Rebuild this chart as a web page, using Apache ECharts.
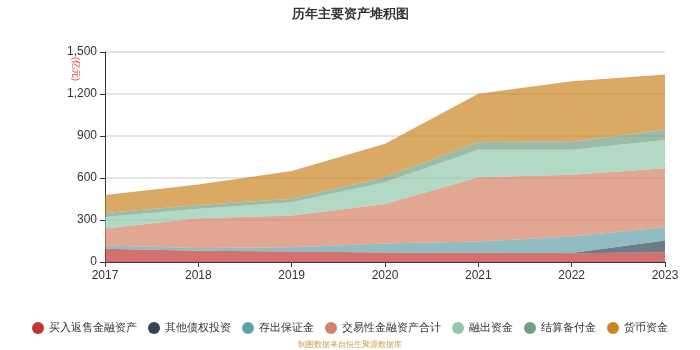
<!DOCTYPE html>
<html>
<head>
<meta charset="utf-8">
<script src="https://cdn.jsdelivr.net/npm/echarts@6/dist/echarts.min.js"></script>
<style>
  html, body { margin: 0; padding: 0; background: #fff; }
  #main { width: 700px; height: 350px; }
</style>
</head>
<body>
<div id="main"></div>
<script>
var years = ['2017', '2018', '2019', '2020', '2021', '2022', '2023'];
var seriesNames = ['买入返售金融资产', '其他债权投资', '存出保证金', '交易性金融资产合计', '融出资金', '结算备付金', '货币资金'];

// 单位：亿元
var buyBack   = [95, 80, 75, 68, 66, 62, 70];
var otherDebt = [0, 0, 0, 0, 0, 3, 84];
var deposit   = [23, 20, 31, 64, 80, 117, 95];
var trading   = [122, 213, 226, 283, 460, 441, 421];
var margin    = [82, 67, 95, 155, 195, 178, 202];
var settle    = [28, 28, 25, 38, 57, 62, 72];
var cash      = [128, 145, 198, 237, 343, 428, 395];

var colors = ['#c23531', '#2f4554', '#61a0a8', '#d48265', '#91c7ae', '#749f83', '#ca8622'];
var allData = [buyBack, otherDebt, deposit, trading, margin, settle, cash];

var myChart = echarts.init(document.getElementById('main'));

var series = [];
for (var i = 0; i < seriesNames.length; i++) {
    series.push({
        name: seriesNames[i],
        type: 'line',
        stack: 'total',
        symbol: 'none',
        lineStyle: { width: 0 },
        areaStyle: { opacity: 0.7 },
        data: allData[i]
    });
}

myChart.setOption({
    color: colors,
    title: {
        text: '历年主要资产堆积图',
        left: 'center',
        top: 3,
        textStyle: { fontSize: 13, fontWeight: 'bold', color: '#333' }
    },
    graphic: [
        {
            type: 'text',
            left: 71,
            top: 57,
            rotation: -Math.PI / 2,
            style: { text: '(亿元)', fill: '#e33', font: '9px sans-serif' }
        },
        {
            type: 'text',
            left: 'center',
            top: 341,
            style: { text: '制图数据来自恒生聚源数据库', fill: '#c8a050', font: '8px sans-serif' }
        }
    ],
    legend: {
        top: 317,
        left: 'center',
        icon: 'circle',
        itemWidth: 12,
        itemHeight: 12,
        itemGap: 11,
        textStyle: { fontSize: 10.5, color: '#333' },
        data: seriesNames
    },
    grid: { left: 105, right: 35, top: 52, bottom: 88 },
    xAxis: {
        type: 'category',
        boundaryGap: false,
        data: years,
        axisLine: { lineStyle: { color: '#333' } },
        axisTick: { alignWithLabel: true },
        axisLabel: { color: '#333', fontSize: 12 }
    },
    yAxis: {
        type: 'value',
        min: 0,
        max: 1500,
        interval: 300,
        axisLine: { show: true, lineStyle: { color: '#333' } },
        axisTick: { show: true },
        axisLabel: {
            color: '#333',
            fontSize: 12,
            formatter: function (v) { return v.toLocaleString('en-US'); }
        },
        splitLine: { lineStyle: { color: '#ddd', width: 1.5 } }
    },
    series: series
});
</script>
</body>
</html>
